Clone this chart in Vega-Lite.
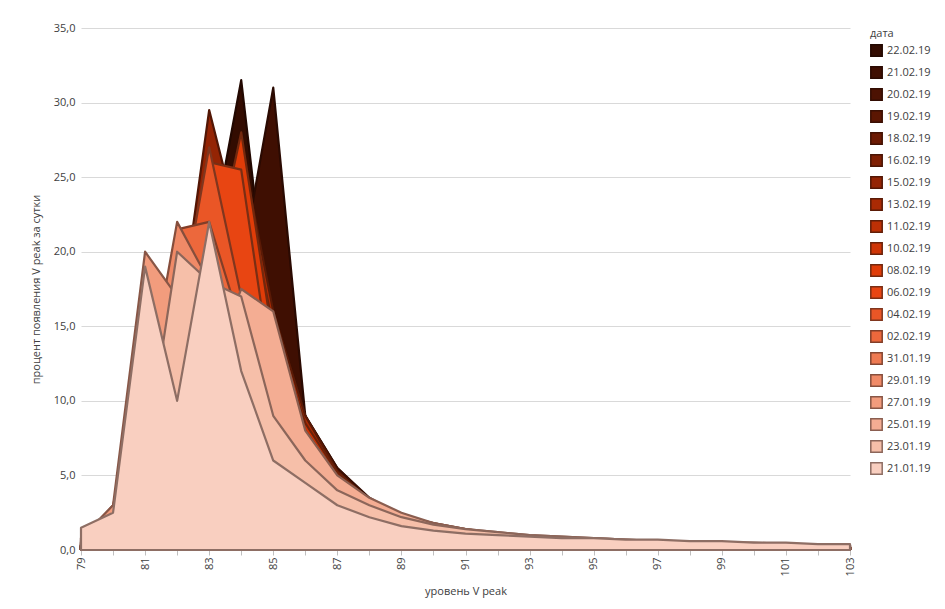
{
  "$schema": "https://vega.github.io/schema/vega-lite/v6.json",
  "autosize": {"type": "fit", "contains": "padding"},
  "width": 945,
  "height": 609,
  "padding": {"left": 30, "right": 14, "top": 22, "bottom": 12},
  "background": "white",
  "config": {
    "font": "Open Sans",
    "view": {"stroke": null},
    "axis": {"labelColor": "#404040", "titleColor": "#404040", "labelFontSize": 11, "titleFontSize": 11, "titleFontWeight": "normal", "gridColor": "#d9d9d9", "domainColor": "#bfbfbf", "tickColor": "#bfbfbf"},
    "legend": {"labelColor": "#404040", "titleColor": "#404040", "labelFontSize": 11, "titleFontSize": 11, "titleFontWeight": "normal", "symbolSize": 130, "rowPadding": 3}
  },
  "data": {"values": [
    {"date":"22.02.19","level":79,"pct":0.3},{"date":"22.02.19","level":80,"pct":1},{"date":"22.02.19","level":81,"pct":4},{"date":"22.02.19","level":82,"pct":10},{"date":"22.02.19","level":83,"pct":20},{"date":"22.02.19","level":84,"pct":31.5},{"date":"22.02.19","level":85,"pct":13},{"date":"22.02.19","level":86,"pct":7},{"date":"22.02.19","level":87,"pct":4},{"date":"22.02.19","level":88,"pct":2.6},{"date":"22.02.19","level":89,"pct":1.8},{"date":"22.02.19","level":90,"pct":1.3},{"date":"22.02.19","level":91,"pct":1},{"date":"22.02.19","level":92,"pct":0.8},{"date":"22.02.19","level":93,"pct":0.6},{"date":"22.02.19","level":94,"pct":0.5},{"date":"22.02.19","level":95,"pct":0.5},{"date":"22.02.19","level":96,"pct":0.4},{"date":"22.02.19","level":97,"pct":0.3},{"date":"22.02.19","level":98,"pct":0.3},{"date":"22.02.19","level":99,"pct":0.3},{"date":"22.02.19","level":100,"pct":0.2},{"date":"22.02.19","level":101,"pct":0.2},{"date":"22.02.19","level":102,"pct":0.2},{"date":"22.02.19","level":103,"pct":0.2},
    {"date":"21.02.19","level":79,"pct":0.2},{"date":"21.02.19","level":80,"pct":0.8},{"date":"21.02.19","level":81,"pct":3},{"date":"21.02.19","level":82,"pct":6},{"date":"21.02.19","level":83,"pct":17},{"date":"21.02.19","level":84,"pct":19},{"date":"21.02.19","level":85,"pct":31},{"date":"21.02.19","level":86,"pct":9},{"date":"21.02.19","level":87,"pct":4.5},{"date":"21.02.19","level":88,"pct":2.8},{"date":"21.02.19","level":89,"pct":1.9},{"date":"21.02.19","level":90,"pct":1.4},{"date":"21.02.19","level":91,"pct":1},{"date":"21.02.19","level":92,"pct":0.8},{"date":"21.02.19","level":93,"pct":0.6},{"date":"21.02.19","level":94,"pct":0.5},{"date":"21.02.19","level":95,"pct":0.4},{"date":"21.02.19","level":96,"pct":0.4},{"date":"21.02.19","level":97,"pct":0.3},{"date":"21.02.19","level":98,"pct":0.3},{"date":"21.02.19","level":99,"pct":0.2},{"date":"21.02.19","level":100,"pct":0.2},{"date":"21.02.19","level":101,"pct":0.2},{"date":"21.02.19","level":102,"pct":0.2},{"date":"21.02.19","level":103,"pct":0.2},
    {"date":"20.02.19","level":79,"pct":0.3},{"date":"20.02.19","level":80,"pct":1.3},{"date":"20.02.19","level":81,"pct":5.5},{"date":"20.02.19","level":82,"pct":13},{"date":"20.02.19","level":83,"pct":19},{"date":"20.02.19","level":84,"pct":23},{"date":"20.02.19","level":85,"pct":15},{"date":"20.02.19","level":86,"pct":9},{"date":"20.02.19","level":87,"pct":5.5},{"date":"20.02.19","level":88,"pct":3.5},{"date":"20.02.19","level":89,"pct":2.3},{"date":"20.02.19","level":90,"pct":1.6},{"date":"20.02.19","level":91,"pct":1.2},{"date":"20.02.19","level":92,"pct":0.9},{"date":"20.02.19","level":93,"pct":0.7},{"date":"20.02.19","level":94,"pct":0.6},{"date":"20.02.19","level":95,"pct":0.5},{"date":"20.02.19","level":96,"pct":0.4},{"date":"20.02.19","level":97,"pct":0.4},{"date":"20.02.19","level":98,"pct":0.3},{"date":"20.02.19","level":99,"pct":0.3},{"date":"20.02.19","level":100,"pct":0.3},{"date":"20.02.19","level":101,"pct":0.2},{"date":"20.02.19","level":102,"pct":0.2},{"date":"20.02.19","level":103,"pct":0.2},
    {"date":"19.02.19","level":79,"pct":0.3},{"date":"19.02.19","level":80,"pct":1.2},{"date":"19.02.19","level":81,"pct":5},{"date":"19.02.19","level":82,"pct":12},{"date":"19.02.19","level":83,"pct":17},{"date":"19.02.19","level":84,"pct":24.5},{"date":"19.02.19","level":85,"pct":16},{"date":"19.02.19","level":86,"pct":9},{"date":"19.02.19","level":87,"pct":5.5},{"date":"19.02.19","level":88,"pct":3.4},{"date":"19.02.19","level":89,"pct":2.3},{"date":"19.02.19","level":90,"pct":1.6},{"date":"19.02.19","level":91,"pct":1.2},{"date":"19.02.19","level":92,"pct":0.9},{"date":"19.02.19","level":93,"pct":0.7},{"date":"19.02.19","level":94,"pct":0.6},{"date":"19.02.19","level":95,"pct":0.5},{"date":"19.02.19","level":96,"pct":0.4},{"date":"19.02.19","level":97,"pct":0.4},{"date":"19.02.19","level":98,"pct":0.3},{"date":"19.02.19","level":99,"pct":0.3},{"date":"19.02.19","level":100,"pct":0.3},{"date":"19.02.19","level":101,"pct":0.2},{"date":"19.02.19","level":102,"pct":0.2},{"date":"19.02.19","level":103,"pct":0.2},
    {"date":"18.02.19","level":79,"pct":0.3},{"date":"18.02.19","level":80,"pct":1},{"date":"18.02.19","level":81,"pct":4.5},{"date":"18.02.19","level":82,"pct":13},{"date":"18.02.19","level":83,"pct":28},{"date":"18.02.19","level":84,"pct":20},{"date":"18.02.19","level":85,"pct":12},{"date":"18.02.19","level":86,"pct":7},{"date":"18.02.19","level":87,"pct":4.3},{"date":"18.02.19","level":88,"pct":2.8},{"date":"18.02.19","level":89,"pct":1.9},{"date":"18.02.19","level":90,"pct":1.4},{"date":"18.02.19","level":91,"pct":1.1},{"date":"18.02.19","level":92,"pct":0.9},{"date":"18.02.19","level":93,"pct":0.7},{"date":"18.02.19","level":94,"pct":0.6},{"date":"18.02.19","level":95,"pct":0.5},{"date":"18.02.19","level":96,"pct":0.4},{"date":"18.02.19","level":97,"pct":0.4},{"date":"18.02.19","level":98,"pct":0.3},{"date":"18.02.19","level":99,"pct":0.3},{"date":"18.02.19","level":100,"pct":0.3},{"date":"18.02.19","level":101,"pct":0.2},{"date":"18.02.19","level":102,"pct":0.2},{"date":"18.02.19","level":103,"pct":0.2},
    {"date":"16.02.19","level":79,"pct":0.4},{"date":"16.02.19","level":80,"pct":1.5},{"date":"16.02.19","level":81,"pct":6},{"date":"16.02.19","level":82,"pct":15},{"date":"16.02.19","level":83,"pct":21},{"date":"16.02.19","level":84,"pct":21.5},{"date":"16.02.19","level":85,"pct":14},{"date":"16.02.19","level":86,"pct":8},{"date":"16.02.19","level":87,"pct":5},{"date":"16.02.19","level":88,"pct":3.2},{"date":"16.02.19","level":89,"pct":2.2},{"date":"16.02.19","level":90,"pct":1.6},{"date":"16.02.19","level":91,"pct":1.2},{"date":"16.02.19","level":92,"pct":0.9},{"date":"16.02.19","level":93,"pct":0.8},{"date":"16.02.19","level":94,"pct":0.6},{"date":"16.02.19","level":95,"pct":0.5},{"date":"16.02.19","level":96,"pct":0.5},{"date":"16.02.19","level":97,"pct":0.4},{"date":"16.02.19","level":98,"pct":0.3},{"date":"16.02.19","level":99,"pct":0.3},{"date":"16.02.19","level":100,"pct":0.3},{"date":"16.02.19","level":101,"pct":0.2},{"date":"16.02.19","level":102,"pct":0.2},{"date":"16.02.19","level":103,"pct":0.2},
    {"date":"15.02.19","level":79,"pct":0.3},{"date":"15.02.19","level":80,"pct":1.2},{"date":"15.02.19","level":81,"pct":5},{"date":"15.02.19","level":82,"pct":14},{"date":"15.02.19","level":83,"pct":29.5},{"date":"15.02.19","level":84,"pct":21},{"date":"15.02.19","level":85,"pct":11},{"date":"15.02.19","level":86,"pct":6.5},{"date":"15.02.19","level":87,"pct":4},{"date":"15.02.19","level":88,"pct":2.6},{"date":"15.02.19","level":89,"pct":1.8},{"date":"15.02.19","level":90,"pct":1.3},{"date":"15.02.19","level":91,"pct":1},{"date":"15.02.19","level":92,"pct":0.8},{"date":"15.02.19","level":93,"pct":0.7},{"date":"15.02.19","level":94,"pct":0.6},{"date":"15.02.19","level":95,"pct":0.5},{"date":"15.02.19","level":96,"pct":0.4},{"date":"15.02.19","level":97,"pct":0.4},{"date":"15.02.19","level":98,"pct":0.3},{"date":"15.02.19","level":99,"pct":0.3},{"date":"15.02.19","level":100,"pct":0.3},{"date":"15.02.19","level":101,"pct":0.2},{"date":"15.02.19","level":102,"pct":0.2},{"date":"15.02.19","level":103,"pct":0.2},
    {"date":"13.02.19","level":79,"pct":0.3},{"date":"13.02.19","level":80,"pct":1},{"date":"13.02.19","level":81,"pct":4},{"date":"13.02.19","level":82,"pct":10},{"date":"13.02.19","level":83,"pct":18},{"date":"13.02.19","level":84,"pct":27},{"date":"13.02.19","level":85,"pct":16},{"date":"13.02.19","level":86,"pct":9},{"date":"13.02.19","level":87,"pct":5.3},{"date":"13.02.19","level":88,"pct":3.3},{"date":"13.02.19","level":89,"pct":2.2},{"date":"13.02.19","level":90,"pct":1.5},{"date":"13.02.19","level":91,"pct":1.1},{"date":"13.02.19","level":92,"pct":0.9},{"date":"13.02.19","level":93,"pct":0.7},{"date":"13.02.19","level":94,"pct":0.6},{"date":"13.02.19","level":95,"pct":0.5},{"date":"13.02.19","level":96,"pct":0.5},{"date":"13.02.19","level":97,"pct":0.4},{"date":"13.02.19","level":98,"pct":0.3},{"date":"13.02.19","level":99,"pct":0.3},{"date":"13.02.19","level":100,"pct":0.3},{"date":"13.02.19","level":101,"pct":0.2},{"date":"13.02.19","level":102,"pct":0.2},{"date":"13.02.19","level":103,"pct":0.2},
    {"date":"11.02.19","level":79,"pct":0.3},{"date":"11.02.19","level":80,"pct":1.3},{"date":"11.02.19","level":81,"pct":5},{"date":"11.02.19","level":82,"pct":12},{"date":"11.02.19","level":83,"pct":20},{"date":"11.02.19","level":84,"pct":25},{"date":"11.02.19","level":85,"pct":14},{"date":"11.02.19","level":86,"pct":8},{"date":"11.02.19","level":87,"pct":5},{"date":"11.02.19","level":88,"pct":3.2},{"date":"11.02.19","level":89,"pct":2.2},{"date":"11.02.19","level":90,"pct":1.6},{"date":"11.02.19","level":91,"pct":1.2},{"date":"11.02.19","level":92,"pct":0.9},{"date":"11.02.19","level":93,"pct":0.8},{"date":"11.02.19","level":94,"pct":0.6},{"date":"11.02.19","level":95,"pct":0.5},{"date":"11.02.19","level":96,"pct":0.5},{"date":"11.02.19","level":97,"pct":0.4},{"date":"11.02.19","level":98,"pct":0.4},{"date":"11.02.19","level":99,"pct":0.3},{"date":"11.02.19","level":100,"pct":0.3},{"date":"11.02.19","level":101,"pct":0.2},{"date":"11.02.19","level":102,"pct":0.2},{"date":"11.02.19","level":103,"pct":0.2},
    {"date":"10.02.19","level":79,"pct":0.3},{"date":"10.02.19","level":80,"pct":1.2},{"date":"10.02.19","level":81,"pct":4.5},{"date":"10.02.19","level":82,"pct":11},{"date":"10.02.19","level":83,"pct":19},{"date":"10.02.19","level":84,"pct":25},{"date":"10.02.19","level":85,"pct":15},{"date":"10.02.19","level":86,"pct":8.5},{"date":"10.02.19","level":87,"pct":5.2},{"date":"10.02.19","level":88,"pct":3.4},{"date":"10.02.19","level":89,"pct":2.3},{"date":"10.02.19","level":90,"pct":1.6},{"date":"10.02.19","level":91,"pct":1.2},{"date":"10.02.19","level":92,"pct":1},{"date":"10.02.19","level":93,"pct":0.8},{"date":"10.02.19","level":94,"pct":0.7},{"date":"10.02.19","level":95,"pct":0.6},{"date":"10.02.19","level":96,"pct":0.5},{"date":"10.02.19","level":97,"pct":0.4},{"date":"10.02.19","level":98,"pct":0.4},{"date":"10.02.19","level":99,"pct":0.3},{"date":"10.02.19","level":100,"pct":0.3},{"date":"10.02.19","level":101,"pct":0.3},{"date":"10.02.19","level":102,"pct":0.2},{"date":"10.02.19","level":103,"pct":0.2},
    {"date":"08.02.19","level":79,"pct":0.3},{"date":"08.02.19","level":80,"pct":1},{"date":"08.02.19","level":81,"pct":4},{"date":"08.02.19","level":82,"pct":10},{"date":"08.02.19","level":83,"pct":18},{"date":"08.02.19","level":84,"pct":28},{"date":"08.02.19","level":85,"pct":14},{"date":"08.02.19","level":86,"pct":8},{"date":"08.02.19","level":87,"pct":5},{"date":"08.02.19","level":88,"pct":3.3},{"date":"08.02.19","level":89,"pct":2.3},{"date":"08.02.19","level":90,"pct":1.6},{"date":"08.02.19","level":91,"pct":1.2},{"date":"08.02.19","level":92,"pct":1},{"date":"08.02.19","level":93,"pct":0.8},{"date":"08.02.19","level":94,"pct":0.7},{"date":"08.02.19","level":95,"pct":0.6},{"date":"08.02.19","level":96,"pct":0.5},{"date":"08.02.19","level":97,"pct":0.4},{"date":"08.02.19","level":98,"pct":0.4},{"date":"08.02.19","level":99,"pct":0.3},{"date":"08.02.19","level":100,"pct":0.3},{"date":"08.02.19","level":101,"pct":0.3},{"date":"08.02.19","level":102,"pct":0.2},{"date":"08.02.19","level":103,"pct":0.2},
    {"date":"06.02.19","level":79,"pct":0.3},{"date":"06.02.19","level":80,"pct":1.2},{"date":"06.02.19","level":81,"pct":4.5},{"date":"06.02.19","level":82,"pct":12},{"date":"06.02.19","level":83,"pct":26},{"date":"06.02.19","level":84,"pct":25.5},{"date":"06.02.19","level":85,"pct":11},{"date":"06.02.19","level":86,"pct":6.5},{"date":"06.02.19","level":87,"pct":4},{"date":"06.02.19","level":88,"pct":2.7},{"date":"06.02.19","level":89,"pct":1.9},{"date":"06.02.19","level":90,"pct":1.4},{"date":"06.02.19","level":91,"pct":1.1},{"date":"06.02.19","level":92,"pct":0.9},{"date":"06.02.19","level":93,"pct":0.7},{"date":"06.02.19","level":94,"pct":0.6},{"date":"06.02.19","level":95,"pct":0.5},{"date":"06.02.19","level":96,"pct":0.5},{"date":"06.02.19","level":97,"pct":0.4},{"date":"06.02.19","level":98,"pct":0.4},{"date":"06.02.19","level":99,"pct":0.3},{"date":"06.02.19","level":100,"pct":0.3},{"date":"06.02.19","level":101,"pct":0.3},{"date":"06.02.19","level":102,"pct":0.2},{"date":"06.02.19","level":103,"pct":0.2},
    {"date":"04.02.19","level":79,"pct":0.4},{"date":"04.02.19","level":80,"pct":1.5},{"date":"04.02.19","level":81,"pct":6},{"date":"04.02.19","level":82,"pct":15},{"date":"04.02.19","level":83,"pct":27},{"date":"04.02.19","level":84,"pct":17},{"date":"04.02.19","level":85,"pct":10},{"date":"04.02.19","level":86,"pct":6.5},{"date":"04.02.19","level":87,"pct":4.3},{"date":"04.02.19","level":88,"pct":3},{"date":"04.02.19","level":89,"pct":2.1},{"date":"04.02.19","level":90,"pct":1.6},{"date":"04.02.19","level":91,"pct":1.2},{"date":"04.02.19","level":92,"pct":1},{"date":"04.02.19","level":93,"pct":0.8},{"date":"04.02.19","level":94,"pct":0.7},{"date":"04.02.19","level":95,"pct":0.6},{"date":"04.02.19","level":96,"pct":0.5},{"date":"04.02.19","level":97,"pct":0.5},{"date":"04.02.19","level":98,"pct":0.4},{"date":"04.02.19","level":99,"pct":0.4},{"date":"04.02.19","level":100,"pct":0.3},{"date":"04.02.19","level":101,"pct":0.3},{"date":"04.02.19","level":102,"pct":0.3},{"date":"04.02.19","level":103,"pct":0.2},
    {"date":"02.02.19","level":79,"pct":0.5},{"date":"02.02.19","level":80,"pct":2},{"date":"02.02.19","level":81,"pct":9},{"date":"02.02.19","level":82,"pct":21.5},{"date":"02.02.19","level":83,"pct":22},{"date":"02.02.19","level":84,"pct":15},{"date":"02.02.19","level":85,"pct":9.5},{"date":"02.02.19","level":86,"pct":6},{"date":"02.02.19","level":87,"pct":4},{"date":"02.02.19","level":88,"pct":2.8},{"date":"02.02.19","level":89,"pct":2},{"date":"02.02.19","level":90,"pct":1.5},{"date":"02.02.19","level":91,"pct":1.2},{"date":"02.02.19","level":92,"pct":1},{"date":"02.02.19","level":93,"pct":0.8},{"date":"02.02.19","level":94,"pct":0.7},{"date":"02.02.19","level":95,"pct":0.6},{"date":"02.02.19","level":96,"pct":0.5},{"date":"02.02.19","level":97,"pct":0.5},{"date":"02.02.19","level":98,"pct":0.4},{"date":"02.02.19","level":99,"pct":0.4},{"date":"02.02.19","level":100,"pct":0.3},{"date":"02.02.19","level":101,"pct":0.3},{"date":"02.02.19","level":102,"pct":0.3},{"date":"02.02.19","level":103,"pct":0.2},
    {"date":"31.01.19","level":79,"pct":0.6},{"date":"31.01.19","level":80,"pct":3},{"date":"31.01.19","level":81,"pct":12},{"date":"31.01.19","level":82,"pct":20.5},{"date":"31.01.19","level":83,"pct":18},{"date":"31.01.19","level":84,"pct":13},{"date":"31.01.19","level":85,"pct":9},{"date":"31.01.19","level":86,"pct":6.5},{"date":"31.01.19","level":87,"pct":4.5},{"date":"31.01.19","level":88,"pct":3.2},{"date":"31.01.19","level":89,"pct":2.3},{"date":"31.01.19","level":90,"pct":1.8},{"date":"31.01.19","level":91,"pct":1.4},{"date":"31.01.19","level":92,"pct":1.1},{"date":"31.01.19","level":93,"pct":0.9},{"date":"31.01.19","level":94,"pct":0.8},{"date":"31.01.19","level":95,"pct":0.7},{"date":"31.01.19","level":96,"pct":0.6},{"date":"31.01.19","level":97,"pct":0.5},{"date":"31.01.19","level":98,"pct":0.5},{"date":"31.01.19","level":99,"pct":0.4},{"date":"31.01.19","level":100,"pct":0.4},{"date":"31.01.19","level":101,"pct":0.3},{"date":"31.01.19","level":102,"pct":0.3},{"date":"31.01.19","level":103,"pct":0.3},
    {"date":"29.01.19","level":79,"pct":0.5},{"date":"29.01.19","level":80,"pct":2},{"date":"29.01.19","level":81,"pct":10},{"date":"29.01.19","level":82,"pct":22},{"date":"29.01.19","level":83,"pct":18},{"date":"29.01.19","level":84,"pct":14},{"date":"29.01.19","level":85,"pct":9},{"date":"29.01.19","level":86,"pct":6},{"date":"29.01.19","level":87,"pct":4},{"date":"29.01.19","level":88,"pct":3},{"date":"29.01.19","level":89,"pct":2.2},{"date":"29.01.19","level":90,"pct":1.7},{"date":"29.01.19","level":91,"pct":1.3},{"date":"29.01.19","level":92,"pct":1.1},{"date":"29.01.19","level":93,"pct":0.9},{"date":"29.01.19","level":94,"pct":0.8},{"date":"29.01.19","level":95,"pct":0.7},{"date":"29.01.19","level":96,"pct":0.6},{"date":"29.01.19","level":97,"pct":0.5},{"date":"29.01.19","level":98,"pct":0.5},{"date":"29.01.19","level":99,"pct":0.4},{"date":"29.01.19","level":100,"pct":0.4},{"date":"29.01.19","level":101,"pct":0.3},{"date":"29.01.19","level":102,"pct":0.3},{"date":"29.01.19","level":103,"pct":0.3},
    {"date":"27.01.19","level":79,"pct":0.8},{"date":"27.01.19","level":80,"pct":3},{"date":"27.01.19","level":81,"pct":20},{"date":"27.01.19","level":82,"pct":17},{"date":"27.01.19","level":83,"pct":15},{"date":"27.01.19","level":84,"pct":11},{"date":"27.01.19","level":85,"pct":8},{"date":"27.01.19","level":86,"pct":5.5},{"date":"27.01.19","level":87,"pct":4},{"date":"27.01.19","level":88,"pct":3},{"date":"27.01.19","level":89,"pct":2.3},{"date":"27.01.19","level":90,"pct":1.8},{"date":"27.01.19","level":91,"pct":1.4},{"date":"27.01.19","level":92,"pct":1.2},{"date":"27.01.19","level":93,"pct":1},{"date":"27.01.19","level":94,"pct":0.9},{"date":"27.01.19","level":95,"pct":0.8},{"date":"27.01.19","level":96,"pct":0.7},{"date":"27.01.19","level":97,"pct":0.6},{"date":"27.01.19","level":98,"pct":0.5},{"date":"27.01.19","level":99,"pct":0.5},{"date":"27.01.19","level":100,"pct":0.4},{"date":"27.01.19","level":101,"pct":0.4},{"date":"27.01.19","level":102,"pct":0.3},{"date":"27.01.19","level":103,"pct":0.3},
    {"date":"25.01.19","level":79,"pct":0.5},{"date":"25.01.19","level":80,"pct":1.2},{"date":"25.01.19","level":81,"pct":5},{"date":"25.01.19","level":82,"pct":19},{"date":"25.01.19","level":83,"pct":12},{"date":"25.01.19","level":84,"pct":17.5},{"date":"25.01.19","level":85,"pct":16},{"date":"25.01.19","level":86,"pct":8},{"date":"25.01.19","level":87,"pct":5},{"date":"25.01.19","level":88,"pct":3.5},{"date":"25.01.19","level":89,"pct":2.5},{"date":"25.01.19","level":90,"pct":1.8},{"date":"25.01.19","level":91,"pct":1.4},{"date":"25.01.19","level":92,"pct":1.1},{"date":"25.01.19","level":93,"pct":0.9},{"date":"25.01.19","level":94,"pct":0.8},{"date":"25.01.19","level":95,"pct":0.7},{"date":"25.01.19","level":96,"pct":0.6},{"date":"25.01.19","level":97,"pct":0.5},{"date":"25.01.19","level":98,"pct":0.5},{"date":"25.01.19","level":99,"pct":0.4},{"date":"25.01.19","level":100,"pct":0.4},{"date":"25.01.19","level":101,"pct":0.3},{"date":"25.01.19","level":102,"pct":0.3},{"date":"25.01.19","level":103,"pct":0.3},
    {"date":"23.01.19","level":79,"pct":0.8},{"date":"23.01.19","level":80,"pct":1.5},{"date":"23.01.19","level":81,"pct":6},{"date":"23.01.19","level":82,"pct":20},{"date":"23.01.19","level":83,"pct":18},{"date":"23.01.19","level":84,"pct":17},{"date":"23.01.19","level":85,"pct":9},{"date":"23.01.19","level":86,"pct":6},{"date":"23.01.19","level":87,"pct":4},{"date":"23.01.19","level":88,"pct":3},{"date":"23.01.19","level":89,"pct":2.2},{"date":"23.01.19","level":90,"pct":1.7},{"date":"23.01.19","level":91,"pct":1.4},{"date":"23.01.19","level":92,"pct":1.2},{"date":"23.01.19","level":93,"pct":1},{"date":"23.01.19","level":94,"pct":0.9},{"date":"23.01.19","level":95,"pct":0.8},{"date":"23.01.19","level":96,"pct":0.7},{"date":"23.01.19","level":97,"pct":0.6},{"date":"23.01.19","level":98,"pct":0.6},{"date":"23.01.19","level":99,"pct":0.5},{"date":"23.01.19","level":100,"pct":0.5},{"date":"23.01.19","level":101,"pct":0.4},{"date":"23.01.19","level":102,"pct":0.4},{"date":"23.01.19","level":103,"pct":0.3},
    {"date":"21.01.19","level":79,"pct":1.5},{"date":"21.01.19","level":80,"pct":2.5},{"date":"21.01.19","level":81,"pct":19},{"date":"21.01.19","level":82,"pct":10},{"date":"21.01.19","level":83,"pct":22},{"date":"21.01.19","level":84,"pct":12},{"date":"21.01.19","level":85,"pct":6},{"date":"21.01.19","level":86,"pct":4.5},{"date":"21.01.19","level":87,"pct":3},{"date":"21.01.19","level":88,"pct":2.2},{"date":"21.01.19","level":89,"pct":1.6},{"date":"21.01.19","level":90,"pct":1.3},{"date":"21.01.19","level":91,"pct":1.1},{"date":"21.01.19","level":92,"pct":1},{"date":"21.01.19","level":93,"pct":0.9},{"date":"21.01.19","level":94,"pct":0.8},{"date":"21.01.19","level":95,"pct":0.8},{"date":"21.01.19","level":96,"pct":0.7},{"date":"21.01.19","level":97,"pct":0.7},{"date":"21.01.19","level":98,"pct":0.6},{"date":"21.01.19","level":99,"pct":0.6},{"date":"21.01.19","level":100,"pct":0.5},{"date":"21.01.19","level":101,"pct":0.5},{"date":"21.01.19","level":102,"pct":0.4},{"date":"21.01.19","level":103,"pct":0.4}
  ]},
  "mark": {"type": "area", "interpolate": "linear", "strokeWidth": 2.2, "strokeJoin": "round", "fillOpacity": 1},
  "encoding": {
    "x": {
      "field": "level", "type": "quantitative",
      "scale": {"domain": [79, 103], "nice": false},
      "axis": {"title": "уровень V peak", "values": [79, 80, 81, 82, 83, 84, 85, 86, 87, 88, 89, 90, 91, 92, 93, 94, 95, 96, 97, 98, 99, 100, 101, 102, 103], "labelExpr": "datum.value % 2 == 1 ? datum.label : ''", "labelAngle": -90, "grid": false, "titlePadding": 10}
    },
    "y": {
      "field": "pct", "type": "quantitative", "stack": null,
      "scale": {"domain": [0, 35], "nice": false},
      "axis": {"title": "процент появления V peak за сутки", "values": [0, 5, 10, 15, 20, 25, 30, 35], "labelExpr": "replace(format(datum.value, '.1f'), '.', ',')", "domain": false, "ticks": false, "labelPadding": 6, "titlePadding": 12}
    },
    "fill": {
      "field": "date", "type": "nominal",
      "scale": {
        "domain": ["22.02.19","21.02.19","20.02.19","19.02.19","18.02.19","16.02.19","15.02.19","13.02.19","11.02.19","10.02.19","08.02.19","06.02.19","04.02.19","02.02.19","31.01.19","29.01.19","27.01.19","25.01.19","23.01.19","21.01.19"],
        "range": ["#330c01","#3f0f02","#4c1202","#5b1602","#6c1a03","#7f1f03","#942404","#a92a04","#bd3005","#cf3506","#e03c08","#e84512","#ea5626","#ec683c","#ee7a52","#f08a67","#f29c7d","#f4ad93","#f6bfa9","#f9cfc0"]
      },
      "legend": {"title": "дата", "symbolType": "square", "orient": "right"}
    },
    "stroke": {
      "field": "date", "type": "nominal",
      "scale": {
        "domain": ["22.02.19","21.02.19","20.02.19","19.02.19","18.02.19","16.02.19","15.02.19","13.02.19","11.02.19","10.02.19","08.02.19","06.02.19","04.02.19","02.02.19","31.01.19","29.01.19","27.01.19","25.01.19","23.01.19","21.01.19"],
        "range": ["#220801","#2a0a02","#320c02","#3a0f03","#421103","#4a1404","#521605","#5a1a06","#621e08","#6a220a","#72280e","#7a2e14","#80361e","#823e28","#844632","#864e3c","#885646","#8a5e50","#8c665a","#8e6e64"]
      },
      "legend": null
    }
  }
}
